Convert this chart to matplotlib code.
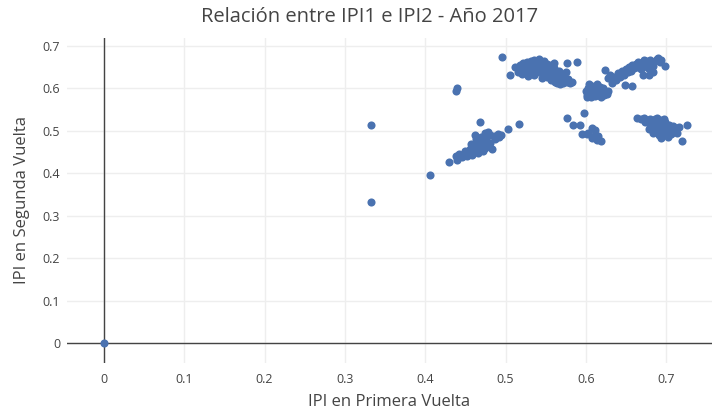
import matplotlib.pyplot as plt

# IPI en primera vuelta (x) / segunda vuelta (y), by cluster
outlier_x = [0.0, 0.333, 0.333, 0.406, 0.438, 0.440, 0.495, 0.506, 0.517, 0.503, 0.577, 0.576, 0.589]
outlier_y = [0.0, 0.333, 0.515, 0.395, 0.593, 0.600, 0.675, 0.632, 0.516, 0.505, 0.530, 0.660, 0.663]

grupo_a_x = [0.430, 0.438, 0.440, 0.442, 0.446, 0.448, 0.450, 0.452, 0.455, 0.456,
             0.458, 0.460, 0.460, 0.462, 0.464, 0.465, 0.466, 0.468, 0.468, 0.470,
             0.470, 0.472, 0.473, 0.474, 0.475, 0.476, 0.478, 0.480, 0.481, 0.483,
             0.485, 0.487, 0.490, 0.492, 0.494, 0.462, 0.468, 0.457, 0.463, 0.478]
grupo_a_y = [0.427, 0.440, 0.432, 0.446, 0.438, 0.445, 0.452, 0.440, 0.448, 0.458,
             0.444, 0.452, 0.465, 0.470, 0.455, 0.462, 0.448, 0.475, 0.458, 0.466,
             0.485, 0.452, 0.470, 0.495, 0.460, 0.478, 0.465, 0.490, 0.472, 0.458,
             0.487, 0.480, 0.492, 0.485, 0.490, 0.490, 0.520, 0.470, 0.480, 0.498]

grupo_b_x = [0.512, 0.515, 0.518, 0.520, 0.522, 0.524, 0.525, 0.527, 0.529, 0.530,
             0.532, 0.533, 0.535, 0.536, 0.538, 0.539, 0.540, 0.541, 0.543, 0.544,
             0.546, 0.547, 0.548, 0.549, 0.550, 0.551, 0.552, 0.553, 0.554, 0.555,
             0.556, 0.557, 0.558, 0.559, 0.560, 0.561, 0.562, 0.563, 0.564, 0.565,
             0.566, 0.567, 0.568, 0.569, 0.570, 0.571, 0.572, 0.573, 0.575, 0.576,
             0.578, 0.580, 0.583, 0.545, 0.528, 0.520, 0.560, 0.535]
grupo_b_y = [0.650, 0.640, 0.655, 0.645, 0.660, 0.650, 0.638, 0.662, 0.652, 0.643,
             0.665, 0.655, 0.647, 0.668, 0.658, 0.640, 0.650, 0.670, 0.660, 0.645,
             0.655, 0.635, 0.664, 0.648, 0.640, 0.657, 0.628, 0.650, 0.636, 0.645,
             0.620, 0.655, 0.630, 0.640, 0.648, 0.615, 0.625, 0.637, 0.612, 0.630,
             0.642, 0.620, 0.610, 0.628, 0.617, 0.635, 0.612, 0.625, 0.640, 0.615,
             0.622, 0.612, 0.615, 0.625, 0.630, 0.635, 0.660, 0.632]

grupo_c_x = [0.600, 0.602, 0.603, 0.605, 0.606, 0.607, 0.608, 0.609, 0.610, 0.611,
             0.612, 0.613, 0.614, 0.615, 0.616, 0.617, 0.618, 0.619, 0.620, 0.621,
             0.622, 0.624, 0.626, 0.628, 0.604, 0.601]
grupo_c_y = [0.595, 0.585, 0.602, 0.590, 0.580, 0.598, 0.607, 0.588, 0.595, 0.582,
             0.600, 0.590, 0.610, 0.585, 0.596, 0.603, 0.588, 0.580, 0.594, 0.600,
             0.585, 0.592, 0.588, 0.594, 0.610, 0.580]

grupo_d_x = [0.624, 0.627, 0.630, 0.633, 0.635, 0.638, 0.640, 0.642, 0.645, 0.647,
             0.649, 0.650, 0.652, 0.654, 0.656, 0.657, 0.658, 0.660, 0.662, 0.664,
             0.665, 0.667, 0.668, 0.670, 0.671, 0.672, 0.674, 0.675, 0.677, 0.678,
             0.680, 0.682, 0.684, 0.686, 0.688, 0.690, 0.692, 0.694, 0.699, 0.683]
grupo_d_y = [0.644, 0.625, 0.632, 0.613, 0.628, 0.620, 0.636, 0.628, 0.642, 0.632,
             0.608, 0.645, 0.638, 0.650, 0.642, 0.606, 0.655, 0.648, 0.658, 0.650,
             0.662, 0.655, 0.645, 0.660, 0.632, 0.667, 0.655, 0.664, 0.648, 0.632,
             0.668, 0.660, 0.652, 0.665, 0.670, 0.672, 0.662, 0.668, 0.653, 0.640]

grupo_e_x = [0.598, 0.584, 0.593, 0.595, 0.601, 0.608, 0.611, 0.608, 0.614, 0.619,
             0.603, 0.611, 0.615]
grupo_e_y = [0.543, 0.514, 0.514, 0.493, 0.493, 0.507, 0.502, 0.483, 0.479, 0.477,
             0.495, 0.490, 0.488]

grupo_f_x = [0.664, 0.668, 0.672, 0.674, 0.676, 0.678, 0.680, 0.681, 0.682, 0.684,
             0.685, 0.686, 0.687, 0.688, 0.689, 0.690, 0.691, 0.692, 0.693, 0.694,
             0.695, 0.696, 0.697, 0.698, 0.699, 0.700, 0.701, 0.702, 0.703, 0.704,
             0.705, 0.706, 0.707, 0.708, 0.709, 0.710, 0.712, 0.714, 0.716, 0.726,
             0.720, 0.694, 0.683, 0.679, 0.697, 0.688]
grupo_f_y = [0.531, 0.528, 0.530, 0.522, 0.526, 0.518, 0.528, 0.512, 0.522, 0.505,
             0.516, 0.528, 0.498, 0.510, 0.520, 0.503, 0.490, 0.514, 0.525, 0.508,
             0.497, 0.518, 0.502, 0.512, 0.522, 0.495, 0.506, 0.485, 0.515, 0.500,
             0.510, 0.492, 0.505, 0.498, 0.512, 0.503, 0.508, 0.496, 0.510, 0.514,
             0.476, 0.484, 0.495, 0.505, 0.528, 0.530]

ipi1 = outlier_x + grupo_a_x + grupo_b_x + grupo_c_x + grupo_d_x + grupo_e_x + grupo_f_x
ipi2 = outlier_y + grupo_a_y + grupo_b_y + grupo_c_y + grupo_d_y + grupo_e_y + grupo_f_y

x_ticks = [0, 0.1, 0.2, 0.3, 0.4, 0.5, 0.6, 0.7]
y_ticks = [0, 0.1, 0.2, 0.3, 0.4, 0.5, 0.6, 0.7]

plt.rcParams['font.family'] = ['Open Sans', 'DejaVu Sans']
text_color = '#444444'

fig = plt.figure(figsize=(7.12, 4.11), dpi=100)
ax = fig.add_axes([67 / 712, 1 - 363 / 411, 645 / 712, 325 / 411])

ax.scatter(ipi1, ipi2, s=34, color='#4a72b0', linewidths=0, zorder=3)

ax.set_xlim(-0.046, 0.757)
ax.set_ylim(-0.047, 0.719)
ax.set_xticks(x_ticks)
ax.set_yticks(y_ticks)
ax.set_xticklabels(['0' if t == 0 else f'{t:g}' for t in x_ticks])
ax.set_yticklabels(['0' if t == 0 else f'{t:g}' for t in y_ticks])

# plotly-like grid and zero lines
ax.grid(True, color='#eeeeee', linewidth=1)
ax.set_axisbelow(True)
ax.axhline(0, color=text_color, linewidth=1, zorder=2)
ax.axvline(0, color=text_color, linewidth=1, zorder=2)
for s in ax.spines.values():
    s.set_visible(False)
ax.tick_params(length=0, labelsize=9, labelcolor=text_color)
ax.tick_params(axis='x', pad=7)
ax.tick_params(axis='y', pad=5)

ax.set_xlabel('IPI en Primera Vuelta', fontsize=12, color=text_color, labelpad=6)
ax.set_ylabel('IPI en Segunda Vuelta', fontsize=12, color=text_color, labelpad=9)
fig.text(370 / 712, 1 - 17 / 411, 'Relación entre IPI1 e IPI2 - Año 2017',
         ha='center', va='center', fontsize=14.5, color=text_color)

fig.savefig('out.png', dpi=100)
